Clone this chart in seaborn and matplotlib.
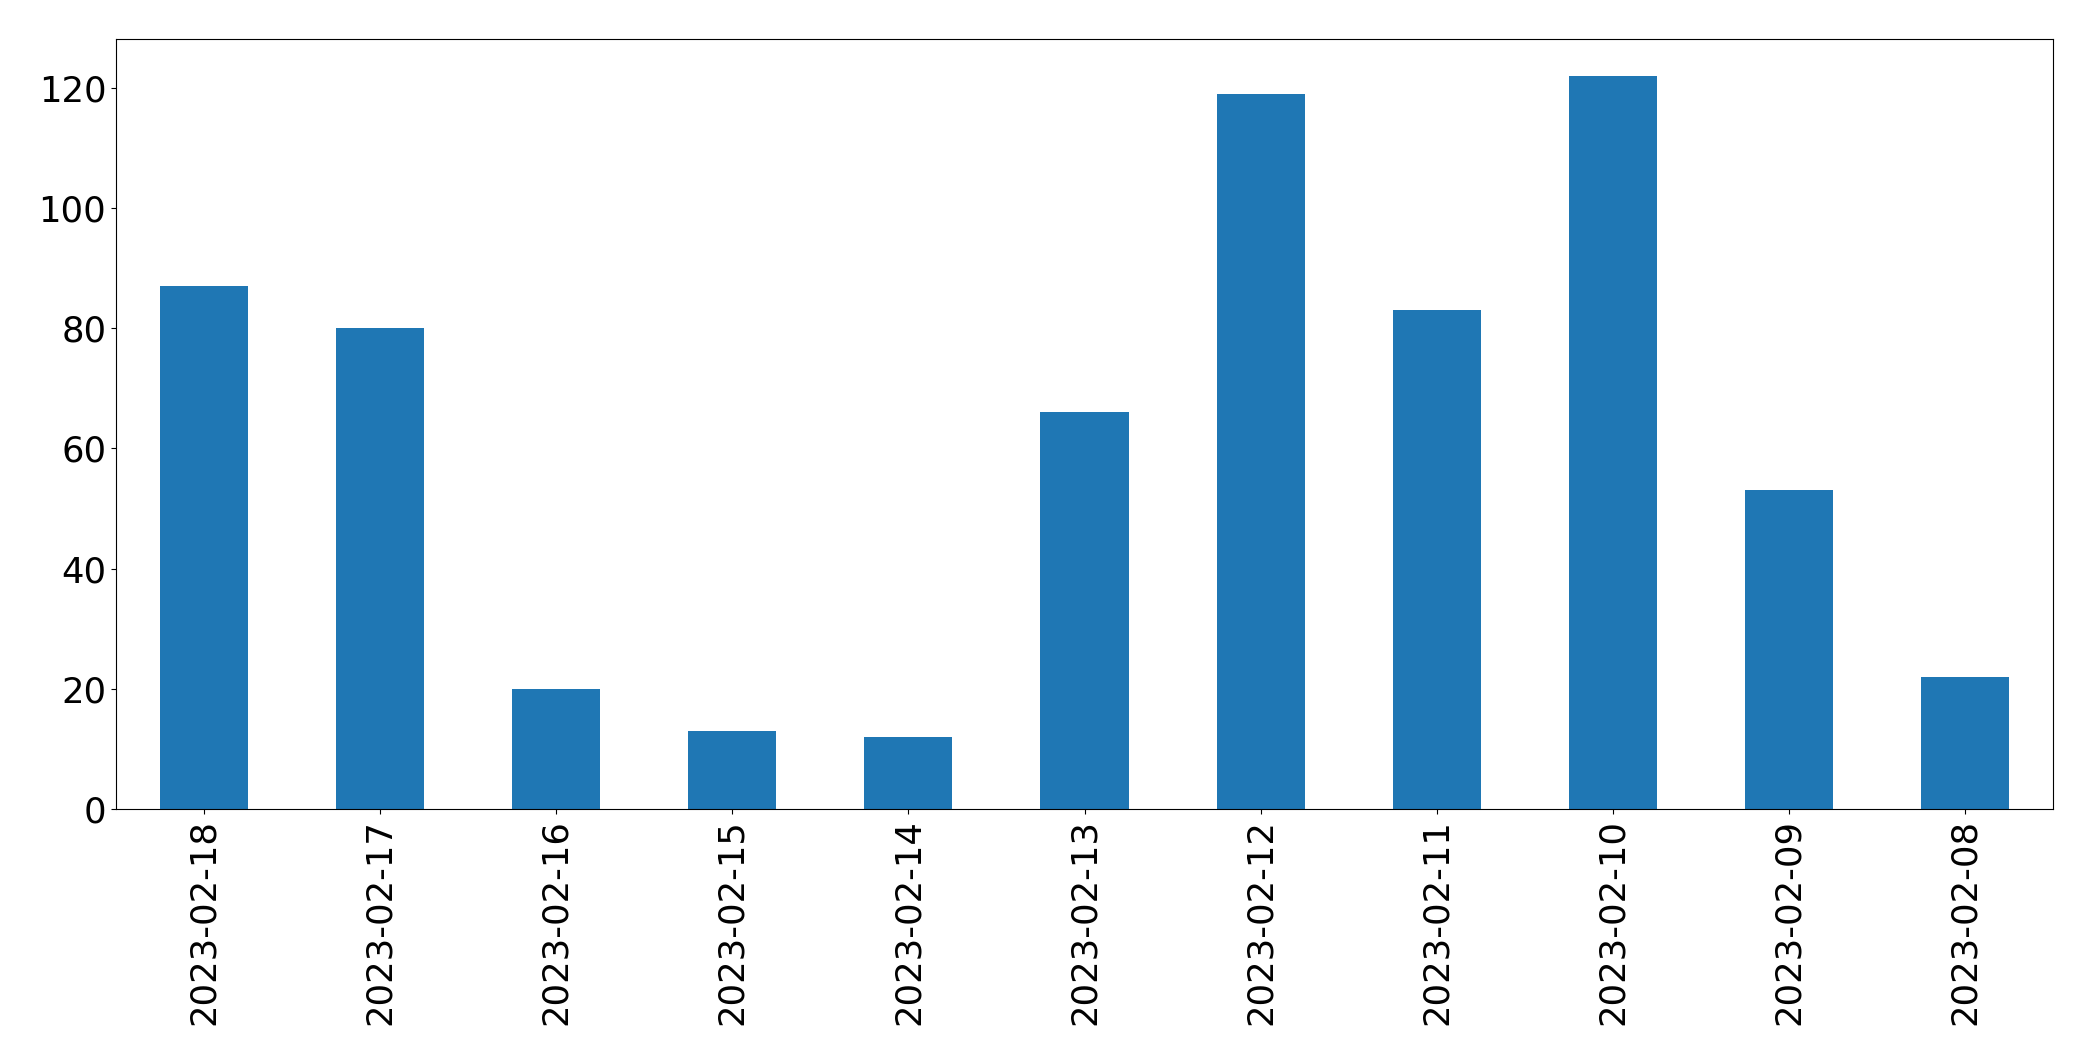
import pandas as pd
import seaborn as sns
import matplotlib.pyplot as plt

dates = ["2023-02-18", "2023-02-17", "2023-02-16", "2023-02-15", "2023-02-14",
         "2023-02-13", "2023-02-12", "2023-02-11", "2023-02-10", "2023-02-09",
         "2023-02-08"]
counts = [87, 80, 20, 13, 12, 66, 119, 83, 122, 53, 22]

df = pd.DataFrame({"date": dates, "count": counts})

fig = plt.figure(figsize=(20.93, 10.61), dpi=100)
ax = fig.add_axes([116 / 2093, 1 - 809 / 1061, (2053 - 116) / 2093, (809 - 39) / 1061])

sns.barplot(data=df, x="date", y="count", order=dates, color="#1f77b4",
            saturation=1, width=0.5, linewidth=0, ax=ax)

ax.set_xlabel("")
ax.set_ylabel("")
ax.set_xlim(-0.5, len(dates) - 0.5)
ax.set_ylim(0, 128.1)
ax.tick_params(axis="both", labelsize=25.5)
plt.setp(ax.get_xticklabels(), rotation=90)

fig.savefig("out.png", dpi=100)
